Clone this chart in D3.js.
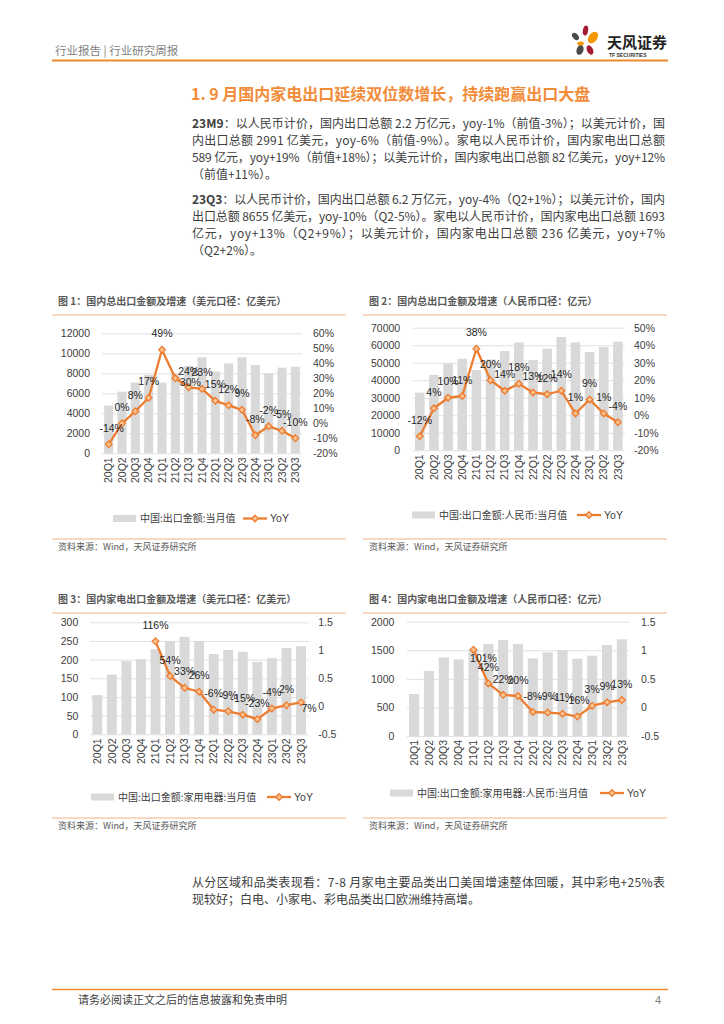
<!DOCTYPE html>
<html>
<head>
<meta charset="utf-8">
<script src="https://cdn.jsdelivr.net/npm/d3@7"></script>
<style>
  body { margin: 0; background: #fff; }
  svg { display: block; font-family: "Liberation Sans", "Noto Sans CJK SC", sans-serif; }
  .cn { font-family: "Noto Sans CJK SC", sans-serif; }
</style>
</head>
<body>
<svg id="page" width="724" height="1024"></svg>
<script>
// ---- data ----
const quarters = ["20Q1","20Q2","20Q3","20Q4","21Q1","21Q2","21Q3","21Q4","22Q1","22Q2","22Q3","22Q4","23Q1","23Q2","23Q3"];

// fig 1: USD, 亿美元 / yoy %
const usdExport = [4780, 6170, 7070, 7830, 7070, 8030, 8730, 9600, 8170, 9000, 9600, 8830, 8000, 8570, 8655];
const usdExportYoy = [-14, 0, 8, 17, 49, 30, 24, 23, 15, 12, 9, -8, -2, -5, -10];

// fig 2: CNY, 亿元 / yoy %
const cnyExport = [32900, 43000, 49600, 52300, 45800, 51900, 56700, 61600, 51500, 58000, 64700, 61600, 56100, 59000, 62000];
const cnyExportYoy = [-12, 4, 10, 11, 38, 20, 14, 18, 13, 12, 14, 1, 9, 1, -4];

// fig 3: appliances USD / yoy ratio
const usdAppliance = [105, 160, 196, 201, 228, 250, 261, 250, 215, 226, 221, 194, 204, 231, 236];
const usdApplianceYoy = [null, null, null, null, 1.16, 0.54, 0.33, 0.26, -0.06, -0.09, -0.15, -0.23, -0.04, 0.02, 0.07];

// fig 4: appliances CNY / yoy ratio
const cnyAppliance = [735, 1137, 1376, 1341, 1510, 1609, 1679, 1609, 1359, 1464, 1504, 1353, 1405, 1592, 1693];
const cnyApplianceYoy = [null, null, null, null, 1.01, 0.42, 0.22, 0.20, -0.08, -0.09, -0.11, -0.16, 0.03, 0.09, 0.13];

const orange = "#ed7d31";
const lineOrange = "#f4b183";
const barGray = "#d9d9d9";
const textGray = "#404040";

const svg = d3.select("#page");

// ---- page header ----
svg.append("text").attr("class", "cn").attr("x", 55).attr("y", 55)
  .style("font-size", "11.5px").attr("fill", "#7f7f7f").text("行业报告 | 行业研究周报");
svg.append("line").attr("x1", 52).attr("x2", 668).attr("y1", 60.5).attr("y2", 60.5)
  .attr("stroke", "#f08a2c").attr("stroke-width", 2);

// logo petals
const logo = svg.append("g");
const petals = [
  {cx: 585.5, cy: 30.5, rx: 2.6, ry: 5, rot: 10, c: "#a51c30"},
  {cx: 575.5, cy: 36.5, rx: 2.8, ry: 4.2, rot: -40, c: "#4a4a4a"},
  {cx: 593, cy: 37.5, rx: 4.2, ry: 6.5, rot: 35, c: "#f39800"},
  {cx: 580.5, cy: 43.5, rx: 3.4, ry: 2, rot: -10, c: "#f39800"},
  {cx: 580, cy: 50, rx: 3.4, ry: 5, rot: 20, c: "#4a4a4a"},
  {cx: 590, cy: 50, rx: 3, ry: 5, rot: -25, c: "#a51c30"}
];
logo.selectAll("ellipse").data(petals).enter().append("ellipse")
  .attr("cx", d => d.cx).attr("cy", d => d.cy).attr("rx", d => d.rx).attr("ry", d => d.ry)
  .attr("transform", d => "rotate(" + d.rot + "," + d.cx + "," + d.cy + ")")
  .attr("fill", d => d.c);
svg.append("text").attr("class", "cn").attr("x", 607).attr("y", 48)
  .style("font-size", "15px").style("font-weight", "bold").attr("fill", "#222").text("天风证券");
svg.append("text").attr("x", 609).attr("y", 57)
  .style("font-size", "5px").style("font-weight", "bold").attr("fill", "#333").text("TF SECURITIES");

// ---- section title & paragraphs ----
svg.append("text").attr("class", "cn").attr("x", 191).attr("y", 100)
  .style("font-size", "16px").style("font-weight", "bold").attr("fill", "#f28c38")
  .text("1. 9 月国内家电出口延续双位数增长，持续跑赢出口大盘");

function paragraph(lines, y0, lead) {
  lines.forEach((s, i) => {
    const t = svg.append("text").attr("class", "cn").attr("x", 192).attr("y", y0 + i * 17)
      .style("font-size", "12px").attr("fill", textGray);
    if (i < lines.length - 1) t.attr("textLength", 473).attr("lengthAdjust", "spacing");
    if (i === 0 && lead) {
      t.append("tspan").style("font-weight", "bold").text(lead);
      t.append("tspan").text(s.slice(lead.length));
    } else {
      t.text(s);
    }
  });
}
paragraph([
  "23M9：以人民币计价，国内出口总额 2.2 万亿元，yoy-1%（前值-3%）；以美元计价，国",
  "内出口总额 2991 亿美元，yoy-6%（前值-9%）。家电以人民币计价，国内家电出口总额",
  "589 亿元，yoy+19%（前值+18%）；以美元计价，国内家电出口总额 82 亿美元，yoy+12%",
  "（前值+11%）。"
], 127.5, "23M9");
paragraph([
  "23Q3：以人民币计价，国内出口总额 6.2 万亿元，yoy-4%（Q2+1%）；以美元计价，国内",
  "出口总额 8655 亿美元，yoy-10%（Q2-5%）。家电以人民币计价，国内家电出口总额 1693",
  "亿元，yoy+13%（Q2+9%）；以美元计价，国内家电出口总额 236 亿美元，yoy+7%",
  "（Q2+2%）。"
], 203.5, "23Q3");
paragraph([
  "从分区域和品类表现看：7-8 月家电主要品类出口美国增速整体回暖，其中彩电+25%表",
  "现较好；白电、小家电、彩电品类出口欧洲维持高增。"
], 887, null);

// ---- footer ----
svg.append("line").attr("x1", 52).attr("x2", 668).attr("y1", 989.5).attr("y2", 989.5)
  .attr("stroke", "#f08a2c").attr("stroke-width", 1.5);
svg.append("text").attr("class", "cn").attr("x", 78).attr("y", 1004)
  .style("font-size", "11px").attr("fill", textGray).text("请务必阅读正文之后的信息披露和免责申明");
svg.append("text").attr("x", 655).attr("y", 1004)
  .style("font-size", "11px").attr("fill", "#7f7f7f").text("4");

// ---- charts ----
function diamond(g, x, y, r) {
  g.append("path")
    .attr("d", "M" + x + "," + (y - r) + "L" + (x + r) + "," + y + "L" + x + "," + (y + r) + "L" + (x - r) + "," + y + "Z")
    .attr("fill", "#f9c28f").attr("stroke", orange).attr("stroke-width", 1.3);
}

function drawChart(c) {
  const g = svg.append("g");

  // frame: title, orange rules, source
  g.append("text").attr("class", "cn").attr("x", c.left + 6).attr("y", c.titleY)
    .style("font-size", "10px").style("font-weight", "bold").attr("fill", "#595959").text(c.title);
  g.append("line").attr("x1", c.left).attr("x2", c.right).attr("y1", c.titleY + 10).attr("y2", c.titleY + 10)
    .attr("stroke", lineOrange).attr("stroke-width", 1.2);
  g.append("line").attr("x1", c.left).attr("x2", c.right).attr("y1", c.sourceY - 11).attr("y2", c.sourceY - 11)
    .attr("stroke", lineOrange).attr("stroke-width", 1.2);
  g.append("text").attr("class", "cn").attr("x", c.left + 6).attr("y", c.sourceY)
    .style("font-size", "9px").attr("fill", "#595959").text("资料来源：Wind，天风证券研究所");

  const x = d3.scaleBand().domain(quarters).range(c.xRange).paddingInner(0.32).paddingOuter(0.16);
  const yL = d3.scaleLinear().domain(c.leftDomain).range(c.yRange);
  const yR = d3.scaleLinear().domain(c.rightDomain).range(c.yRange);

  // grid
  g.append("g").attr("transform", "translate(" + c.xRange[0] + ",0)")
    .call(d3.axisLeft(yL).tickValues(c.leftTicks).tickSize(-(c.xRange[1] - c.xRange[0])).tickFormat(""))
    .call(a => a.select(".domain").remove())
    .call(a => a.selectAll("line").attr("stroke", "#d9d9d9").attr("stroke-width", 0.8));

  // bars
  g.selectAll("rect.bar").data(c.bars).enter().append("rect").attr("class", "bar")
    .attr("x", (d, i) => x(quarters[i]))
    .attr("y", d => yL(d))
    .attr("width", x.bandwidth())
    .attr("height", d => yL(0) - yL(d))
    .attr("fill", barGray);

  // axes
  const axisFont = a => a.selectAll("text").style("font-size", "10.5px").attr("fill", textGray);
  g.append("g").attr("transform", "translate(" + c.xRange[0] + ",0)")
    .call(d3.axisLeft(yL).tickValues(c.leftTicks).tickSize(0).tickPadding(c.padL).tickFormat(d3.format("d")))
    .call(a => a.select(".domain").remove()).call(axisFont);
  g.append("g").attr("transform", "translate(" + c.xRange[1] + ",0)")
    .call(d3.axisRight(yR).tickValues(c.rightTicks).tickSize(0).tickPadding(c.padR).tickFormat(c.rightFormat))
    .call(a => a.select(".domain").remove()).call(axisFont);
  g.append("g").attr("transform", "translate(0," + c.yRange[0] + ")")
    .call(d3.axisBottom(x).tickSize(0).tickPadding(0))
    .call(a => a.select(".domain").remove())
    .call(a => a.selectAll("text")
      .style("font-size", "10.5px").attr("fill", textGray)
      .attr("transform", "rotate(-90)").attr("text-anchor", "end")
      .attr("x", -4).attr("y", 0).attr("dy", "0.35em"));

  // yoy line
  const pts = c.yoy.map((v, i) => ({v: v, i: i})).filter(d => d.v !== null);
  const px = d => x(quarters[d.i]) + x.bandwidth() / 2;
  g.append("path").datum(pts)
    .attr("d", d3.line().x(px).y(d => yR(d.v)))
    .attr("fill", "none").attr("stroke", orange).attr("stroke-width", 2.3).attr("stroke-linejoin", "round");
  pts.forEach(d => diamond(g, px(d), yR(d.v), 3.3));

  // data labels
  pts.forEach(d => {
    const n = c.nudge[d.i] || {dx: 0, dy: -16};
    g.append("text").attr("x", px(d) + n.dx).attr("y", yR(d.v) + n.dy).attr("dy", "0.35em")
      .attr("text-anchor", "middle").style("font-size", "10.5px").attr("fill", "#262626")
      .text(c.labelFormat(d.v));
  });

  // legend
  const ly = c.legendY;
  g.append("rect").attr("x", c.legendX).attr("y", ly - 3.5).attr("width", 23).attr("height", 7).attr("fill", barGray);
  g.append("text").attr("class", "cn").attr("x", c.legendX + 27).attr("y", ly).attr("dy", "0.35em")
    .style("font-size", "10px").attr("fill", textGray).text(c.barName);
  g.append("line").attr("x1", c.legendLineX).attr("x2", c.legendLineX + 24).attr("y1", ly).attr("y2", ly)
    .attr("stroke", orange).attr("stroke-width", 2.3);
  diamond(g, c.legendLineX + 12, ly, 3.3);
  g.append("text").attr("x", c.legendLineX + 27).attr("y", ly).attr("dy", "0.35em")
    .style("font-size", "10.5px").attr("fill", textGray).text("YoY");
}

const pct = d => d + "%";
const ratioPct = d => Math.round(d * 100) + "%";

drawChart({
  title: "图 1：国内总出口金额及增速（美元口径：亿美元）",
  left: 52, right: 346, titleY: 305, sourceY: 550,
  xRange: [102, 302], yRange: [453.3, 333.3],
  leftDomain: [0, 12000], leftTicks: d3.range(0, 12001, 2000),
  rightDomain: [-20, 60], rightTicks: d3.range(-20, 61, 10), rightFormat: pct,
  padL: 12, padR: 11,
  bars: usdExport, yoy: usdExportYoy, labelFormat: pct,
  nudge: {0: {dx: 3, dy: -16}, 5: {dx: 15, dy: 4}},
  barName: "中国:出口金额:当月值", legendY: 518.5, legendX: 113, legendLineX: 243
});

drawChart({
  title: "图 2：国内总出口金额及增速（人民币口径：亿元）",
  left: 363, right: 667, titleY: 305, sourceY: 550,
  xRange: [412.7, 625], yRange: [450.3, 327.7],
  leftDomain: [0, 70000], leftTicks: d3.range(0, 70001, 10000),
  rightDomain: [-20, 50], rightTicks: d3.range(-20, 51, 10), rightFormat: pct,
  padL: 12.5, padR: 9,
  bars: cnyExport, yoy: cnyExportYoy, labelFormat: pct,
  nudge: {},
  barName: "中国:出口金额:人民币:当月值", legendY: 515, legendX: 412, legendLineX: 577
});

drawChart({
  title: "图 3：国内家电出口金额及增速（美元口径：亿美元）",
  left: 52, right: 346, titleY: 603, sourceY: 829,
  xRange: [90, 308.3], yRange: [734.3, 622.3],
  leftDomain: [0, 300], leftTicks: d3.range(0, 301, 50),
  rightDomain: [-0.5, 1.5], rightTicks: [-0.5, 0, 0.5, 1, 1.5], rightFormat: d => String(d),
  padL: 11.7, padR: 10,
  bars: usdAppliance, yoy: usdApplianceYoy, labelFormat: ratioPct,
  nudge: {14: {dx: 8, dy: 6}},
  barName: "中国:出口金额:家用电器:当月值", legendY: 797, legendX: 91, legendLineX: 267
});

drawChart({
  title: "图 4：国内家电出口金额及增速（人民币口径：亿元）",
  left: 363, right: 667, titleY: 603, sourceY: 829,
  xRange: [406.7, 629.3], yRange: [736, 621.7],
  leftDomain: [0, 2000], leftTicks: d3.range(0, 2001, 500),
  rightDomain: [-0.5, 1.5], rightTicks: [-0.5, 0, 0.5, 1, 1.5], rightFormat: d => String(d),
  padL: 12.4, padR: 11.7,
  bars: cnyAppliance, yoy: cnyApplianceYoy, labelFormat: ratioPct,
  nudge: {4: {dx: 10, dy: 9}},
  barName: "中国:出口金额:家用电器:人民币:当月值", legendY: 793, legendX: 390, legendLineX: 600
});
</script>
</body>
</html>
